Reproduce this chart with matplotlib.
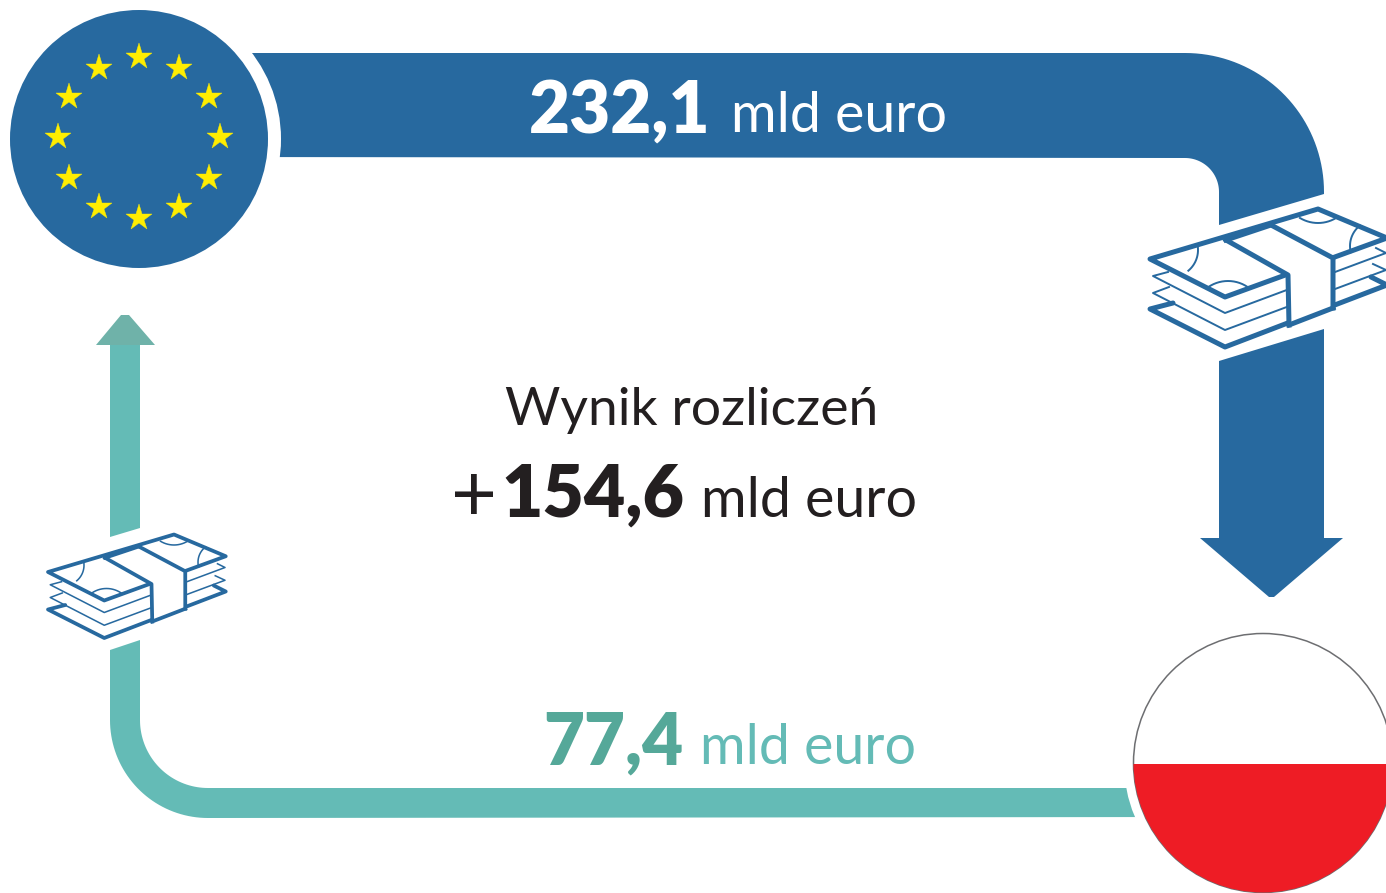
import numpy as np
import matplotlib
matplotlib.use("Agg")
import matplotlib.pyplot as plt
from matplotlib.patches import Circle, Polygon, Rectangle

plt.rcParams['font.family'] = ['Lato', 'Open Sans', 'DejaVu Sans']

BLUE = '#27699F'
TEAL = '#64BBB6'
TEAL_HEAD = '#6FB2A9'
TEAL_TEXT = '#55A899'
DARK = '#231F20'
RED = '#EE1C25'
YELLOW = '#FFED00'

paid_in = '232,1'
received = '77,4'
balance = '154,6'
unit = 'mld euro'
title = 'Wynik rozliczeń'

star_x = [139, 179, 209, 220, 209, 179, 139, 99, 69, 58, 69, 99]
star_y = [57, 68, 97, 137, 178, 207, 218, 207, 178, 137, 97, 68]

fig = plt.figure(figsize=(13.86, 8.93), dpi=100)
ax = fig.add_axes([0, 0, 1, 1])
ax.set_xlim(0, 1386)
ax.set_ylim(893, 0)
ax.axis('off')


def arc(cx, cy, r, a0, a1, n=40):
    t = np.radians(np.linspace(a0, a1, n))
    return np.column_stack([cx + r * np.cos(t), cy + r * np.sin(t)])


def banknotes(x0, y0, s):
    # coordinates measured on the big bundle, left corner of top sheet = 0,0
    def pt(pts):
        return np.array(pts, dtype=float) * s + [x0, y0]

    lw = 3.6 * (0.75 if s < 1 else 1)
    thin = 1.4 * (0.8 if s < 1 else 1)

    # bottom sheet
    ax.add_patch(Polygon(pt([(0, 50), (75, 88), (237, 26), (221, 18), (23, 44)]),
                         closed=True, fc='white', ec='none', zorder=5))
    ax.plot(*pt([(23, 44), (0, 50), (75, 88), (237, 26), (221, 18)]).T,
            color=BLUE, lw=lw, solid_joinstyle='round', solid_capstyle='round', zorder=6)
    # two thin middle sheets
    ax.plot(*pt([(19, 28), (3, 34), (75, 71), (236, 11), (223, 5)]).T, color=BLUE, lw=thin, zorder=7)
    ax.plot(*pt([(18, 13), (3, 17), (75, 54), (236, -6), (226, -11)]).T, color=BLUE, lw=thin, zorder=7)
    # top sheet
    ax.add_patch(Polygon(pt([(0, 0), (168, -50), (237, -21), (75, 38)]), closed=True,
                         fc='white', ec=BLUE, lw=lw, joinstyle='round', zorder=8))
    # paper band
    ax.add_patch(Polygon(pt([(76, -19), (121, -34), (183, -1), (183, 49), (139, 66), (138, 16)]),
                         closed=True, fc='white', ec='none', zorder=9))
    ax.plot(*pt([(76, -19), (138, 16), (139, 66)]).T, color=BLUE, lw=lw, zorder=10)
    ax.plot(*pt([(121, -34), (183, -1), (183, 49)]).T, color=BLUE, lw=lw, zorder=10)
    # redraw the edges the band crosses
    ax.plot(*pt([(76, -19), (121, -34)]).T, color=BLUE, lw=lw, zorder=10)
    ax.plot(*pt([(139, 66), (183, 49)]).T, color=BLUE, lw=lw, zorder=10)
    # corner ornaments
    for cx, cy, r, a0, a1 in [(21, -9, 27, -5, 50), (78, 57, 35, 236, 304),
                              (168, -71, 35, 59, 121), (226, -13, 26, 166, 232)]:
        ax.plot(*(arc(cx, cy, r, a0, a1, 15) * s + [x0, y0]).T, color=BLUE, lw=thin, zorder=9)


# blue flow, EU to Poland
blue_top = np.vstack([[(200, 53)], arc(1185, 192, 139, -90, 0),
                      [(1324, 194), (1219, 225), (1219, 192)],
                      arc(1185, 192, 34, 0, -90), [(200, 157)]])
ax.add_patch(Polygon(blue_top, closed=True, fc=BLUE, ec='none', zorder=1))
ax.add_patch(Polygon([(1219, 361), (1324, 329), (1324, 538), (1343, 538), (1274, 597),
                      (1269, 597), (1200, 538), (1219, 538)],
                     closed=True, fc=BLUE, ec='none', zorder=1))

# teal flow, Poland to EU
teal_low = np.vstack([[(110, 650), (140, 640)], arc(208, 720, 68, 180, 90),
                      [(1200, 788), (1200, 817)], arc(208, 720, 98, 90, 180)])
ax.add_patch(Polygon(teal_low, closed=True, fc=TEAL, ec='none', zorder=1))
ax.add_patch(Polygon([(110, 345), (140, 345), (140, 528), (110, 537)],
                     closed=True, fc=TEAL, ec='none', zorder=1))
ax.add_patch(Polygon([(96, 345), (121, 315), (129, 315), (155, 345)],
                     closed=True, fc=TEAL_HEAD, ec='none', zorder=1))

# EU flag
ax.add_patch(Circle((139, 139), 142, fc='white', ec='none', zorder=2))
ax.add_patch(Circle((139, 139), 129, fc=BLUE, ec='none', zorder=3))
ax.plot(star_x, star_y, ls='none', marker='*', ms=20, mfc=YELLOW, mec=YELLOW, mew=0.3, zorder=4)

# Polish flag
ax.add_patch(Circle((1263, 763), 139, fc='white', ec='none', zorder=2))
ax.add_patch(Circle((1263, 763), 129.5, fc='white', ec='#6D6E71', lw=1.1, zorder=3))
red = Rectangle((1130, 764), 270, 135, fc=RED, ec='none', zorder=4)
ax.add_patch(red)
red.set_clip_path(Circle((1263, 763), 129.5, transform=ax.transData))

banknotes(1150, 259, 1.0)
banknotes(48, 572, 0.75)

# labels
ax.text(529, 133, paid_in, color='white', fontsize=51, fontweight='heavy', va='baseline', zorder=12)
ax.text(731, 132, unit, color='white', fontsize=40, va='baseline', zorder=12)
ax.text(692, 425, title, color=DARK, fontsize=38.5, ha='center', va='baseline', zorder=12)
ax.text(451, 521, '+', color=DARK, fontsize=57, va='baseline', zorder=12)
ax.text(501, 517, balance, color=DARK, fontsize=51.5, fontweight='heavy', va='baseline', zorder=12)
ax.text(701, 517, unit, color=DARK, fontsize=40, va='baseline', zorder=12)
ax.text(543, 765, received, color=TEAL_TEXT, fontsize=51, fontweight='heavy', va='baseline', zorder=12)
ax.text(700, 764, unit, color=TEAL, fontsize=40, va='baseline', zorder=12)

fig.savefig('out.png', dpi=100, facecolor='white')
